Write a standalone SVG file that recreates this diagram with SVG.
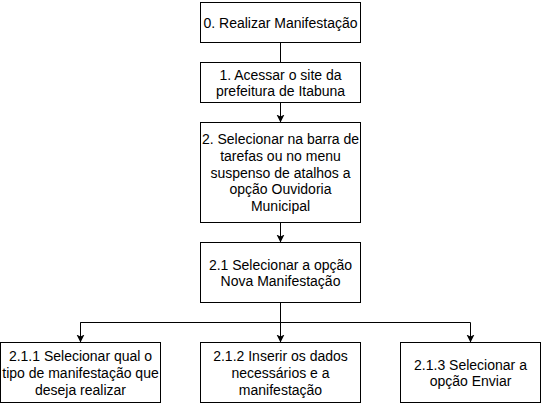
<svg xmlns="http://www.w3.org/2000/svg" width="541" height="404" viewBox="0 0 541 404">
<style>
.box{fill:#fff;stroke:#000;stroke-width:1}
.t{font-family:"Liberation Sans",Arial,sans-serif;font-size:14px;fill:#000;text-anchor:middle}
.c{fill:none;stroke:#000;stroke-width:1}
</style>
<defs>
<marker id="arr" viewBox="0 0 8 10" markerWidth="8" markerHeight="10" refX="8" refY="5" orient="auto" markerUnits="userSpaceOnUse">
<path d="M0,1 L8,5 L0,9 L2,5 Z" fill="#000"/>
</marker>
</defs>
<rect width="541" height="404" fill="#fff"/>
<g id="connectors">
<path class="c" d="M280.5,42.5 V62.5"/>
<path class="c" d="M280.5,102.5 V122.5" marker-end="url(#arr)"/>
<path class="c" d="M280.5,222.5 V242.5" marker-end="url(#arr)"/>
<path class="c" d="M280.5,302.5 V342.5" marker-end="url(#arr)"/>
<path class="c" d="M80.5,342.5 V322.5 H470.5 V342.5" marker-end="url(#arr)"/>
<path class="c" d="M80.5,322.5 V342.5" marker-end="url(#arr)"/>
</g>
<g id="n0">
<rect class="box" x="200.5" y="2.5" width="160" height="40"/>
<text class="t" x="280.5" y="28">0. Realizar Manifestação</text>
</g>
<g id="n1">
<rect class="box" x="200.5" y="62.5" width="160" height="40"/>
<text class="t" x="280.5" y="79.6">1. Acessar o site da</text>
<text class="t" x="280.5" y="96.4">prefeitura de Itabuna</text>
</g>
<g id="n2">
<rect class="box" x="200.5" y="122.5" width="160" height="100"/>
<text class="t" x="280.5" y="144">2. Selecionar na barra de</text>
<text class="t" x="280.5" y="160.8">tarefas ou no menu</text>
<text class="t" x="280.5" y="177.6">suspenso de atalhos a</text>
<text class="t" x="280.5" y="194.4">opção Ouvidoria</text>
<text class="t" x="280.5" y="211.2">Municipal</text>
</g>
<g id="n21">
<rect class="box" x="200.5" y="242.5" width="160" height="60"/>
<text class="t" x="280.5" y="269.6">2.1 Selecionar a opção</text>
<text class="t" x="280.5" y="286.4">Nova Manifestação</text>
</g>
<g id="n211">
<rect class="box" x="0.5" y="342.5" width="160" height="60"/>
<text class="t" x="80.5" y="361.2">2.1.1 Selecionar qual o</text>
<text class="t" x="80.5" y="378">tipo de manifestação que</text>
<text class="t" x="80.5" y="394.8">deseja realizar</text>
</g>
<g id="n212">
<rect class="box" x="200.5" y="342.5" width="160" height="60"/>
<text class="t" x="280.5" y="361.2">2.1.2 Inserir os dados</text>
<text class="t" x="280.5" y="378">necessários e a</text>
<text class="t" x="280.5" y="394.8">manifestação</text>
</g>
<g id="n213">
<rect class="box" x="400.5" y="342.5" width="140" height="60"/>
<text class="t" x="470.5" y="369.6">2.1.3 Selecionar a</text>
<text class="t" x="470.5" y="386.4">opção Enviar</text>
</g>
</svg>
